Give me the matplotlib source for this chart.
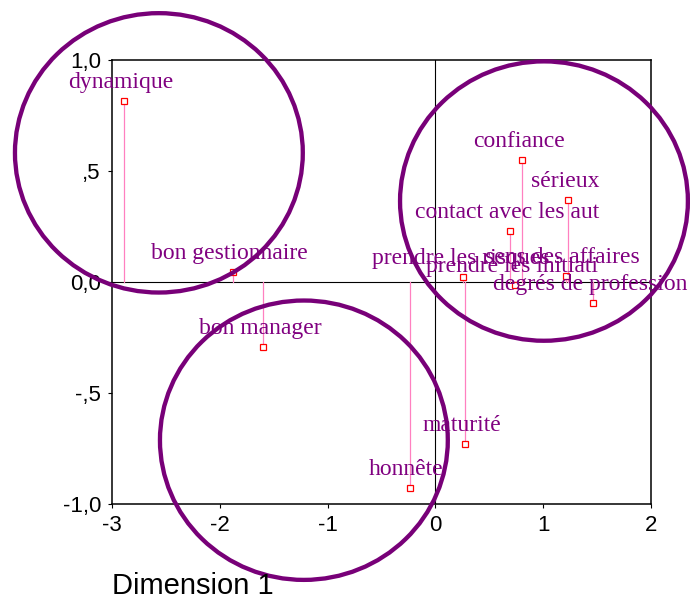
import matplotlib
matplotlib.use('Agg')
import matplotlib.pyplot as plt
from matplotlib.patches import Ellipse

# coordonnees des modalites (dimension 1, dimension 2)
labels = ['dynamique', 'bon gestionnaire', 'bon manager', 'honnête', 'maturité',
          'prendre les risques', 'confiance', 'sérieux', 'contact avec les aut',
          'prendre les initiati', 'sens des affaires', 'degrés de profession']
dim1 = [-2.89, -1.88, -1.60, -0.24, 0.27, 0.26, 0.80, 1.23, 0.69, 0.74, 1.21, 1.46]
dim2 = [0.815, 0.042, -0.295, -0.926, -0.728, 0.021, 0.55, 0.369, 0.228, -0.014, 0.026, -0.095]

# groupes entoures a la main
circle_x = [-2.565, 1.007, -1.22]
circle_y = [0.58, 0.363, -0.713]
circle_w = 2.67
circle_h = 1.257

xticks = [-3, -2, -1, 0, 1, 2]
xticklabels = ['-3', '-2', '-1', '0', '1', '2']
yticks = [1.0, 0.5, 0.0, -0.5, -1.0]
yticklabels = ['1,0', ',5', '0,0', '-,5', '-1,0']

purple = '#800080'
fig = plt.figure(figsize=(6.9, 5.98), dpi=100)
ax = fig.add_axes([0.1623, 0.1572, 0.7812, 0.7433])
ax.set_xlim(-3, 2)
ax.set_ylim(-1, 1)

ax.axhline(0, color='k', lw=0.8, zorder=1)
ax.axvline(0, color='k', lw=0.8, zorder=1)

for x, y, lab in zip(dim1, dim2, labels):
    ax.plot([x, x], [0, y], color='#ff80c0', lw=0.9, zorder=2)
    ax.annotate(lab, (x, y), xytext=(-3, 13), textcoords='offset pixels',
                ha='center', va='baseline', color=purple, fontsize=17,
                family='Liberation Serif', zorder=4, annotation_clip=False)
ax.plot(dim1, dim2, 's', ms=5, mfc='white', mec='red', mew=0.9, ls='none', zorder=3)

for cx, cy in zip(circle_x, circle_y):
    ax.add_patch(Ellipse((cx, cy), circle_w, circle_h, fill=False, ec='#780078',
                         lw=3.1, clip_on=False, zorder=5))

ax.set_xticks(xticks)
ax.set_xticklabels(xticklabels)
ax.set_yticks(yticks)
ax.set_yticklabels(yticklabels)
ax.tick_params(direction='out', length=3, width=0.8, labelsize=16, pad=5)
for t in ax.get_xticklabels() + ax.get_yticklabels():
    t.set_family('Liberation Sans')
for s in ax.spines.values():
    s.set_linewidth(1.1)

fig.text(112/690, 1 - 594/598, 'Dimension 1', fontsize=21, family='Liberation Sans',
         ha='left', va='baseline')

plt.savefig('out.png', dpi=100)
